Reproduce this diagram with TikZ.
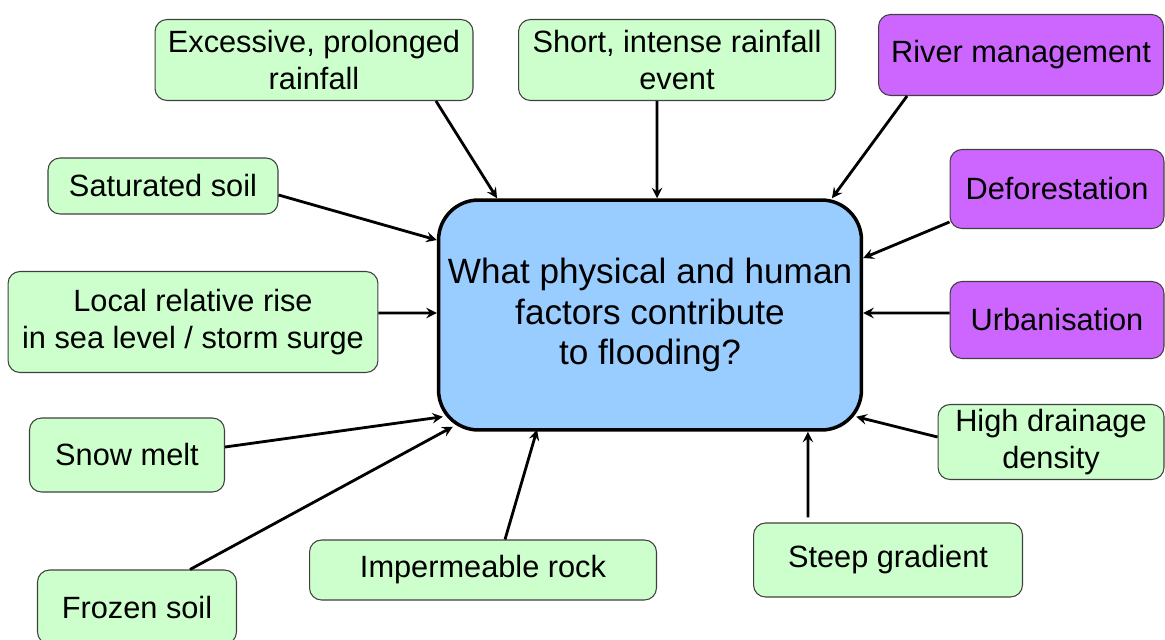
\documentclass[tikz,border=0pt]{standalone}
\usepackage{fontspec}
\setmainfont{Liberation Sans}
\usepackage{xcolor}
\usepackage{tikz}

\definecolor{factgreen}{RGB}{204,255,204}
\definecolor{factpurple}{RGB}{204,102,255}
\definecolor{qblue}{RGB}{153,204,255}

\begin{document}
\begin{tikzpicture}[x=0.02cm,y=-0.02cm,
  fact/.style={draw=black!75, line width=0.6pt, rounded corners=0.24cm, fill=factgreen,
    align=center, inner sep=0pt, font=\fontsize{17.5}{21}\selectfont},
  human/.style={fact, fill=factpurple},
  link/.style={->, >=stealth, line width=1.6pt}]
\useasboundingbox (0,0) rectangle (1165,639);

% central question
\node[draw, line width=2pt, rounded corners=0.8cm, fill=qblue, minimum width=8.46cm, minimum height=4.6cm,
  align=center, font=\fontsize{20}{23}\selectfont] (main) at (650,315)
  {What physical and human\\factors contribute\\to flooding?};

% physical factors
\node[fact, minimum width=6.36cm, minimum height=1.62cm] (exc) at (314,60) {Excessive, prolonged\\rainfall};
\node[fact, minimum width=6.34cm, minimum height=1.62cm] (short) at (677,60) {Short, intense rainfall\\event};
\node[fact, minimum width=4.6cm, minimum height=1.12cm] (sat) at (163,186) {Saturated soil};
\node[fact, minimum width=7.4cm, minimum height=2.02cm] (local) at (193,322) {Local relative rise\\in sea level / storm surge};
\node[fact, minimum width=3.9cm, minimum height=1.48cm] (snow) at (127,455) {Snow melt};
\node[fact, minimum width=3.98cm, minimum height=1.48cm] (frozen) at (137,607) {Frozen soil};
\node[fact, minimum width=6.94cm, minimum height=1.2cm] (imp) at (483,570) {Impermeable rock};
\node[fact, minimum width=5.38cm, minimum height=1.48cm] (steep) at (888,560) {Steep gradient};
\node[fact, minimum width=4.52cm, minimum height=1.5cm] (high) at (1051,442) {High drainage\\density};

% human factors
\node[human, minimum width=5.7cm, minimum height=1.62cm] (river) at (1021,55) {River management};
\node[human, minimum width=4.28cm, minimum height=1.58cm] (defo) at (1057,189) {Deforestation};
\node[human, minimum width=4.28cm, minimum height=1.54cm] (urban) at (1057,320) {Urbanisation};

% arrows
\draw[link] ([xshift=2.44cm]exc.south) -- ([xshift=-3.06cm]main.north);
\draw[link] ([xshift=-0.4cm]short.south) -- ([xshift=0.14cm]main.north);
\draw[link] ([xshift=-2.28cm]river.south) -- ([xshift=3.64cm]main.north);
\draw[link] ([yshift=-0.18cm]sat.east) -- ([yshift=1.5cm]main.west);
\draw[link] ([yshift=-0.66cm]defo.west) -- ([yshift=1.14cm]main.east);
\draw[link] ([yshift=0.18cm]local.east) -- ([yshift=0.04cm]main.west);
\draw[link] ([yshift=0.14cm]urban.west) -- ([yshift=0.04cm]main.east);
\draw[link] ([yshift=0.16cm]snow.east) -- ([xshift=0.12cm,yshift=0.3cm]main.south west);
\draw[link] ([xshift=1.06cm]frozen.north) -- ([xshift=0.32cm,yshift=0.1cm]main.south west);
\draw[link] ([xshift=0.44cm]imp.north) -- ([xshift=-2.26cm,yshift=0.04cm]main.south);
\draw[link] ([xshift=-1.6cm,yshift=0.1cm]steep.north) -- ([xshift=3.16cm]main.south);
\draw[link] ([yshift=0.1cm]high.west) -- ([xshift=-0.14cm,yshift=0.3cm]main.south east);
\end{tikzpicture}
\end{document}
